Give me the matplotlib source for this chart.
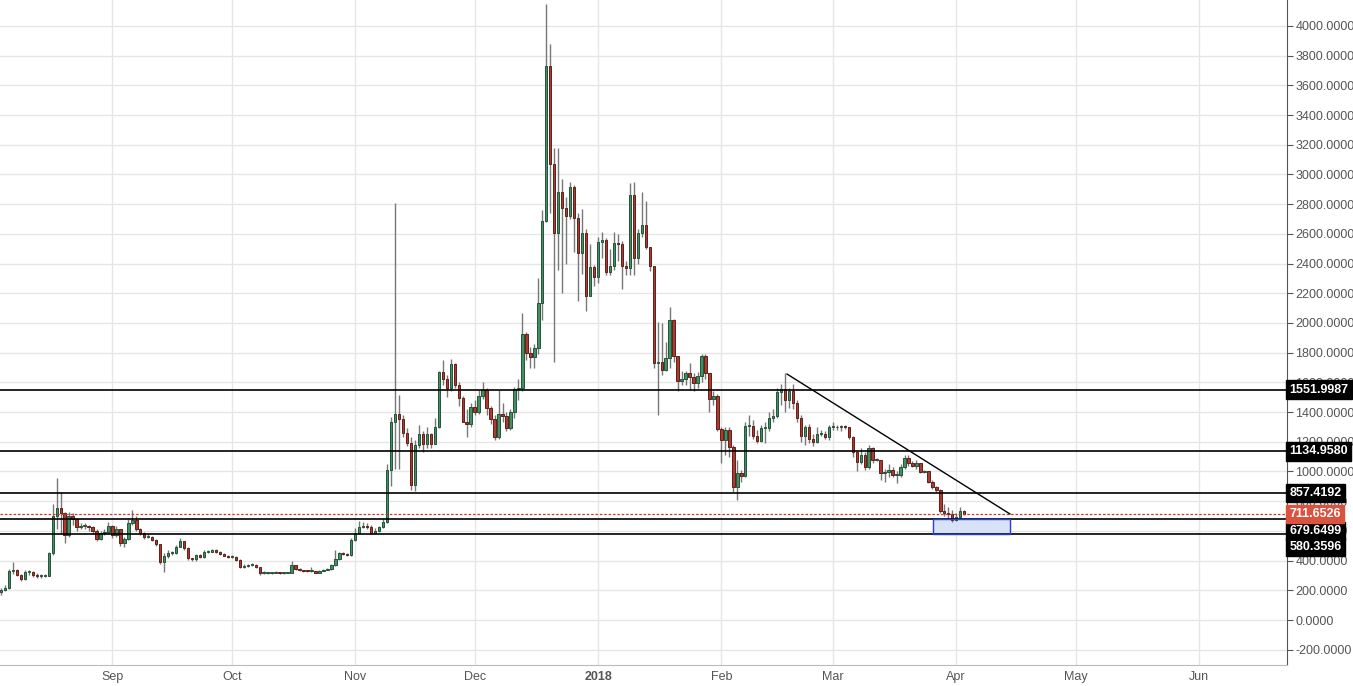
import matplotlib
matplotlib.use("Agg")
import matplotlib.pyplot as plt
import matplotlib.dates as mdates
import numpy as np
import datetime as dt

plt.rcParams['font.family'] = ['Liberation Sans', 'DejaVu Sans']

start = dt.date(2017, 8, 4)
first_open = 190
closes = [200,215,330,337,303,276,323,323,305,298,298,298,451,700,754,720,572,700,680,626,
633,633,627,600,547,583,590,633,570,610,517,545,651,673,612,585,561,561,539,510,
389,431,451,451,494,530,483,415,408,438,427,460,460,471,460,445,434,422,427,404,
355,366,373,373,356,314,319,319,319,321,319,319,319,370,344,336,330,328,328,319,
332,337,344,370,410,449,445,436,539,584,628,634,628,588,600,628,662,1010,1335,1387,
1354,1258,1190,909,1178,1252,1185,1252,1182,1302,1670,1622,1561,1723,1582,1494,1335,1320,1434,1400,
1510,1549,1426,1354,1234,1387,1372,1293,1403,1555,1561,1925,1797,1771,1831,2137,2690,3730,3070,2605,
2881,2774,2722,2916,2708,2473,2608,2182,2376,2312,2545,2560,2345,2383,2538,2530,2384,2372,2862,2438,
2605,2660,2511,2384,1730,1740,1683,1764,2020,1778,1612,1620,1663,1633,1596,1643,1778,1663,1488,1510,
1286,1212,1279,1165,898,992,970,1306,1306,1241,1207,1295,1295,1360,1374,1535,1555,1481,1545,1461,
1360,1239,1300,1219,1199,1252,1252,1230,1300,1300,1297,1305,1297,1232,1134,1066,1111,1032,1158,1077,
1077,992,999,1010,976,976,1030,1090,1057,1039,1059,999,1000,931,893,875,736,723,714,673,
693,736,712]
highs = [215,235,345,390,345,310,340,335,330,315,310,310,460,780,956,860,730,730,720,690,
650,650,640,635,610,600,610,660,640,630,615,560,680,740,700,620,590,580,565,545,
515,450,470,465,505,555,535,490,420,445,445,470,470,480,475,462,450,436,435,430,
408,375,380,382,376,360,328,325,326,328,326,325,326,395,372,348,340,336,360,332,
338,342,350,378,470,460,460,450,550,620,670,660,650,640,620,635,690,1050,1370,2808,
1515,1380,1290,1230,1210,1310,1270,1300,1262,1360,1680,1750,1650,1760,1730,1600,1510,1420,1460,1480,
1550,1600,1560,1440,1380,1550,1460,1400,1420,1570,1620,2070,1940,1840,1860,2300,2760,4148,3879,3180,
3180,2970,2850,2950,2930,2740,2770,2630,2530,2390,2580,2610,2570,2500,2610,2600,2550,2420,2940,2950,
2630,2880,2820,2510,2380,2010,2000,1870,2110,2030,1780,1680,1680,1730,1660,1670,1790,1790,1665,1540,
1520,1300,1300,1300,1180,1080,1010,1330,1380,1350,1280,1310,1330,1400,1420,1560,1590,1663,1560,1590,
1480,1380,1310,1320,1250,1300,1280,1270,1310,1330,1310,1315,1310,1300,1240,1140,1160,1130,1180,1165,
1090,1080,1020,1050,1030,1000,1050,1110,1110,1070,1080,1060,1010,1005,940,900,880,780,760,740,
720,760,740]
lows = [170,195,210,310,295,265,270,300,290,285,285,290,295,440,610,580,520,560,640,600,
610,615,600,580,535,540,570,580,555,560,500,490,540,640,600,570,545,550,530,500,
380,320,420,440,445,490,470,405,395,400,420,420,450,455,452,440,428,415,418,398,
350,352,360,365,350,300,310,312,312,314,313,313,314,315,338,330,325,322,320,314,
316,328,335,340,365,405,438,430,432,530,580,620,610,580,580,590,620,655,900,1020,
1020,1230,1170,875,870,1160,1130,1160,1160,1200,1290,1580,1500,1540,1560,1440,1330,1230,1300,1380,
1390,1490,1380,1320,1210,1220,1330,1270,1280,1360,1480,1540,1750,1700,1700,1790,2020,2680,2740,1737,
2360,2200,2400,2700,2480,2150,2330,2080,2200,2250,2270,2440,2320,2320,2360,2420,2230,2320,2320,2320,
2400,2580,2500,2350,1700,1380,1650,1680,1700,1740,1540,1580,1580,1550,1540,1560,1600,1620,1400,1450,
1270,1060,1110,1100,860,810,930,960,1240,1220,1190,1200,1190,1270,1330,1360,1450,1400,1430,1420,
1330,1200,1180,1190,1170,1190,1240,1220,1210,1280,1280,1270,1285,1220,1100,1000,1050,1010,1020,1060,
1070,940,930,960,960,920,965,1020,1040,1030,1020,990,990,920,880,860,720,700,690,660,
670,690,705]

levels = [1551.9987, 1134.9580, 857.4192, 679.6499, 580.3596]
level_label_y = [1551.9987, 1134.9580, 857.4192, 598.0, 492.0]
last_price = 711.6526
trend_start = (197.5, 1656)
trend_end = (253.5, 714)
box_x = (234.2, 253.5)
month_labels = ["Sep", "Oct", "Nov", "Dec", "2018", "Feb", "Mar", "Apr", "May", "Jun"]
month_starts = [dt.date(2017,9,1), dt.date(2017,10,1), dt.date(2017,11,1), dt.date(2017,12,1),
                dt.date(2018,1,1), dt.date(2018,2,1), dt.date(2018,3,1), dt.date(2018,4,1),
                dt.date(2018,5,1), dt.date(2018,6,1)]

n = len(closes)
opens = [first_open] + closes[:-1]
x0 = mdates.date2num(start)

fig = plt.figure(figsize=(13.53, 6.86), dpi=100)
ax = fig.add_axes([0, 21/686, 1287/1353, 1 - 21/686])

up = np.array(closes) >= np.array(opens)
for i in range(n):
    xi = x0 + i
    ax.vlines(xi, lows[i], highs[i], color="#777777", lw=1, zorder=2)
    bot = min(opens[i], closes[i]); h = max(abs(closes[i]-opens[i]), 6)
    fc = "#41905e" if up[i] else "#ab3b30"
    ec = "#24523a" if up[i] else "#5e2018"
    ax.bar(xi, h, bottom=bot, width=0.6, color=fc, edgecolor=ec, lw=0.7, zorder=3)

for lv in levels:
    ax.axhline(lv, color="black", lw=1.2, zorder=4)
ax.axhline(last_price, color="#c0392b", lw=0.9, ls=(0, (2, 1.5)), zorder=4)
ax.plot([x0+trend_start[0], x0+trend_end[0]], [trend_start[1], trend_end[1]], color="black", lw=1, zorder=5)
ax.fill_between([x0+box_x[0], x0+box_x[1]], levels[4], levels[3], color="#cfdcf5", alpha=0.8, zorder=1.5)
ax.add_patch(plt.Rectangle((x0+box_x[0], levels[4]), box_x[1]-box_x[0], levels[3]-levels[4],
                           fill=False, edgecolor="#2b3fd1", lw=1, zorder=5))

ax.set_xlim(x0 - 0.25, x0 + 323.1)
ax.set_ylim(-303, 4175)
ax.set_xticks([mdates.date2num(d) for d in month_starts])
ax.set_xticklabels(month_labels)
for lab in ax.get_xticklabels():
    if lab.get_text() == "2018":
        lab.set_fontweight("bold")
ax.set_yticks(np.arange(-200, 4001, 200))
ax.yaxis.tick_right()
ax.yaxis.set_major_formatter(matplotlib.ticker.FuncFormatter(lambda v, p: f"{v:.4f}"))
ax.tick_params(axis="y", colors="#555555", labelsize=9, length=4, pad=2, labelcolor="#555555")
ax.tick_params(axis="x", colors="#555555", labelsize=9, length=0, pad=4)
ax.grid(True, color="#e6e6e6", lw=1)
ax.set_axisbelow(True)
for s in ["top", "left"]:
    ax.spines[s].set_visible(False)
ax.spines["right"].set_color("#555555")
ax.spines["bottom"].set_color("#bbbbbb")

trans = matplotlib.transforms.blended_transform_factory(ax.transAxes, ax.transData)
for lv, ly in zip(levels, level_label_y):
    ax.text(1.002, ly, f"{lv:.4f}", transform=trans, color="white", fontsize=9, fontweight="bold",
            va="center", ha="left", clip_on=False, zorder=10,
            bbox=dict(boxstyle="square,pad=0.25", fc="black", ec="black"))
ax.text(1.002, last_price, f"{last_price:.4f}", transform=trans, color="white", fontsize=9,
        fontweight="bold", va="center", ha="left", clip_on=False, zorder=11,
        bbox=dict(boxstyle="square,pad=0.25", fc="#d9533f", ec="#d9533f"))

fig.savefig("out.png", dpi=100)
